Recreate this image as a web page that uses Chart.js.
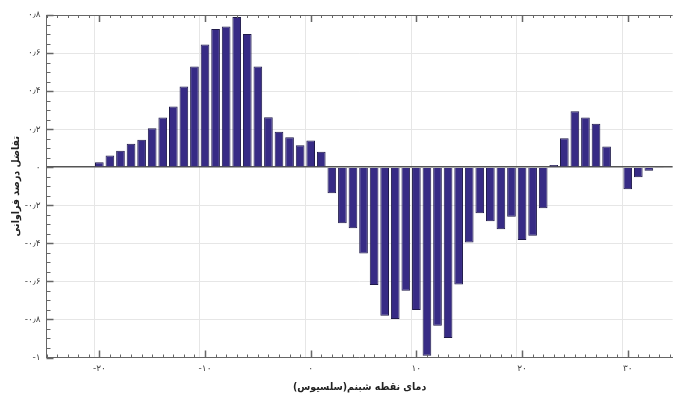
<!DOCTYPE html>
<html><head><meta charset="utf-8">
<script src="https://cdn.jsdelivr.net/npm/chart.js@4.4.1/dist/chart.umd.min.js"></script>
<style>html,body{margin:0;padding:0;background:#fff;overflow:hidden}#wrap{width:676px;height:398px}</style>
</head><body><div id="wrap"><canvas id="c" width="676" height="398"></canvas></div>
<script>
const dewPoints = [-20,-19,-18,-17,-16,-15,-14,-13,-12,-11,-10,-9,-8,-7,-6,-5,-4,-3,-2,-1,0,1,2,3,4,5,6,7,8,9,10,11,12,13,14,15,16,17,18,19,20,21,22,23,24,25,26,27,28,29,30,31,32,33];
const freqDiff = [0.026,0.061,0.087,0.123,0.144,0.205,0.261,0.319,0.424,0.529,0.645,0.726,0.740,0.789,0.700,0.529,0.263,0.187,0.158,0.116,0.140,0.081,-0.137,-0.295,-0.321,-0.453,-0.619,-0.781,-0.798,-0.649,-0.751,-0.991,-0.833,-0.897,-0.616,-0.395,-0.242,-0.284,-0.326,-0.260,-0.383,-0.360,-0.216,0.012,0.152,0.294,0.261,0.229,0.109,0.004,-0.116,-0.053,-0.018,-0.003];
const xTickValues = [-20,-10,0,10,20,30];
const xTickLabels = ['-۲۰','-۱۰','۰','۱۰','۲۰','۳۰'];
const yTickValues = [-1,-0.8,-0.6,-0.4,-0.2,0,0.2,0.4,0.6,0.8];
const yTickLabels = ['-۱','-۰٫۸','-۰٫۶','-۰٫۴','-۰٫۲','۰','۰٫۲','۰٫۴','۰٫۶','۰٫۸'];
const xTitle = '\u200Fدمای نقطه شبنم(سلسیوس)\u200F';
const yTitle = '\u200Fتفاضل درصد فراوانی\u200F';

function findLabel(vals, labels, v){
  for (let i=0;i<vals.length;i++){ if (Math.abs(vals[i]-v)<1e-6) return labels[i]; }
  return '';
}
const isYMajor = v => Math.abs(Math.round(v*100) % 20) === 0 && Math.abs(v*100-Math.round(v*100))<1e-4;
const isXMajor = v => Math.abs(v-Math.round(v))<1e-6 && Math.round(v)%10===0;

const innerTicks = {
  id:'innerTicks',
  afterDatasetsDraw(chart){
    const {ctx, chartArea:a, scales:{x,y}} = chart;
    ctx.save();
    ctx.strokeStyle='#666';
    ctx.lineWidth=1;
    ctx.beginPath(); ctx.moveTo(a.left, a.top+0.5); ctx.lineTo(a.right, a.top+0.5); ctx.stroke();
    x.ticks.forEach(t=>{
      const v=t.value; if (Math.abs(v-Math.round(v))>1e-6) return;
      const major = isXMajor(v);
      const px = Math.round(x.getPixelForValue(v))+0.5;
      const L = major?7:3;
      ctx.lineWidth = major?1.5:1;
      ctx.beginPath();
      ctx.moveTo(px,a.bottom); ctx.lineTo(px,a.bottom-L);
      ctx.moveTo(px,a.top); ctx.lineTo(px,a.top+L);
      ctx.stroke();
    });
    y.ticks.forEach(t=>{
      const v=t.value;
      const major = isYMajor(v);
      const py = Math.round(y.getPixelForValue(v))+0.5;
      const L = major?7:4;
      ctx.lineWidth = major?1.5:1;
      ctx.beginPath(); ctx.moveTo(a.left,py); ctx.lineTo(a.left+L,py); ctx.stroke();
    });
    ctx.restore();
  }
};

Chart.defaults.font.family = "'DejaVu Sans', sans-serif";
const titleFont = {family:"'DejaVu Sans Condensed', 'DejaVu Sans', sans-serif", size:10.5, weight:'bold'};
new Chart(document.getElementById('c'), {
  type:'bar',
  data:{ datasets:[{
    data: dewPoints.map((d,i)=>({x:d, y:freqDiff[i]})),
    backgroundColor:'#372b85',
    borderColor:'#1f1a4a',
    borderWidth:1,
    barPercentage:0.82,
    categoryPercentage:1
  }]},
  options:{
    responsive:false, animation:false, devicePixelRatio:1,
    layout:{padding:{top:15,right:0,left:0,bottom:0}},
    plugins:{legend:{display:false}, tooltip:{enabled:false}},
    scales:{
      x:{
        type:'linear', min:-25, max:34.25, offset:false,
        afterFit: s=>{ s.height = 40.5; },
        ticks:{ stepSize:1, autoSkip:false, maxRotation:0, includeBounds:false, padding:6,
          color:'#444', font:{size:9},
          callback:(v)=>findLabel(xTickValues,xTickLabels,v) },
        grid:{ drawTicks:false,
          color: c => (c.tick && isXMajor(c.tick.value)) ? '#e6e6e6' : 'rgba(0,0,0,0)',
          lineWidth:1 },
        border:{display:true,color:'#666',width:1},
        title:{display:true,text:xTitle,color:'#222',font:titleFont,padding:{top:0,bottom:4}}
      },
      y:{
        min:-1, max:0.8,
        afterFit: s=>{ s.width = 46.5; },
        ticks:{ stepSize:0.05, autoSkip:false, padding:6, color:'#444', font:{size:9},
          callback:(v)=>findLabel(yTickValues,yTickLabels,v) },
        grid:{ drawTicks:false,
          color: c => { if(!c.tick) return 'rgba(0,0,0,0)'; const v=c.tick.value; if (Math.abs(v)<1e-6) return '#555'; return isYMajor(v)?'#e6e6e6':'rgba(0,0,0,0)'; },
          lineWidth: c => (c.tick && Math.abs(c.tick.value)<1e-6) ? 1.5 : 1 },
        border:{display:true,color:'#666',width:1},
        title:{display:true,text:yTitle,color:'#222',font:titleFont,padding:{top:10,bottom:0}}
      }
    }
  },
  plugins:[innerTicks]
});
</script></body></html>
